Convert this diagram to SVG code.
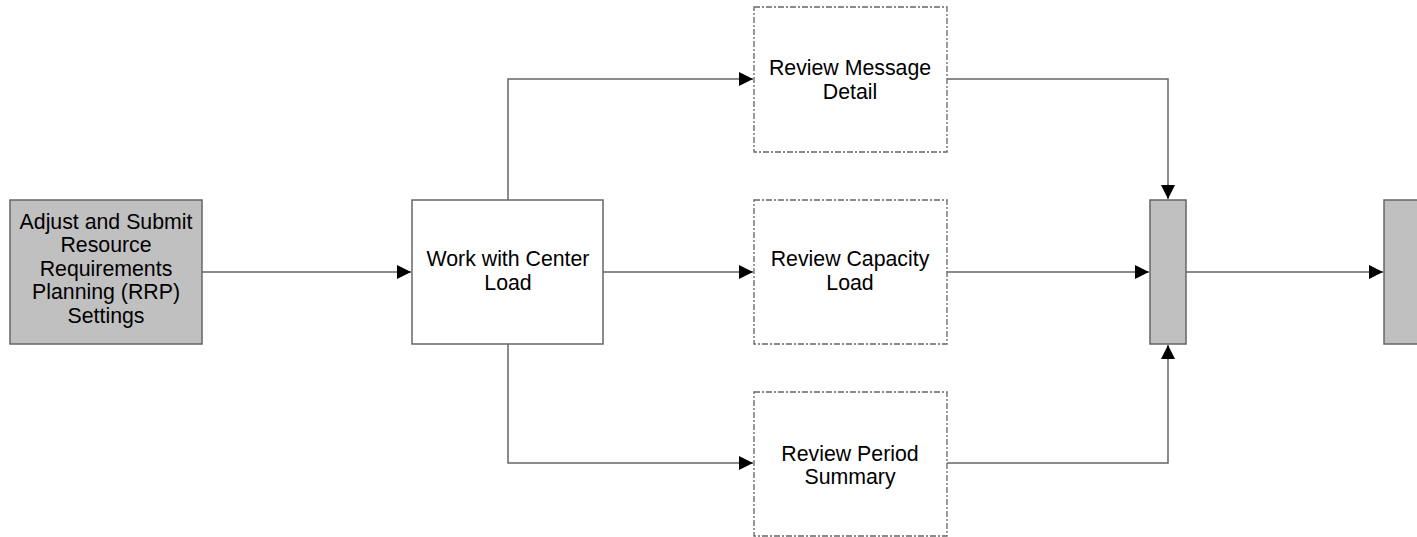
<svg xmlns="http://www.w3.org/2000/svg" width="1417" height="537" viewBox="0 0 1417 537">
<style>
.box{fill:#fff;stroke:#666;stroke-width:1.5}
.gray{fill:#c0c0c0;stroke:#666;stroke-width:1.5}
.dash{fill:#fff;stroke:#666;stroke-width:1.3;stroke-dasharray:6 2 2 2}
.con{fill:none;stroke:#666;stroke-width:1.5}
text{font-family:"Liberation Sans",Arial,sans-serif;font-size:21.3px;fill:#000;text-anchor:middle}
</style>
<defs>
<marker id="arrL" viewBox="0 0 14 14" refX="14" refY="7" markerWidth="14" markerHeight="14" markerUnits="userSpaceOnUse" orient="auto">
<path d="M0,0 L14,7 L0,14 Z" fill="#000"/>
</marker>
</defs>
<g id="connectors">
<path class="con" d="M202,272 H411" marker-end="url(#arrL)"/>
<path class="con" d="M508,200 V79 H753" marker-end="url(#arrL)"/>
<path class="con" d="M603,272 H753" marker-end="url(#arrL)"/>
<path class="con" d="M508,344 V463 H753" marker-end="url(#arrL)"/>
<path class="con" d="M947,79 H1168 V199" marker-end="url(#arrL)"/>
<path class="con" d="M947,272 H1149" marker-end="url(#arrL)"/>
<path class="con" d="M947,463 H1168 V345" marker-end="url(#arrL)"/>
<path class="con" d="M1186,272 H1383" marker-end="url(#arrL)"/>
</g>
<g id="adjust">
<rect class="gray" x="10" y="200" width="192" height="144"/>
<text x="106" y="229">Adjust and Submit</text>
<text x="106" y="252">Resource</text>
<text x="106" y="276">Requirements</text>
<text x="106" y="299">Planning (RRP)</text>
<text x="106" y="323">Settings</text>
</g>
<g id="work">
<rect class="box" x="412" y="200" width="191" height="144"/>
<text x="508" y="266">Work with Center</text>
<text x="508" y="290">Load</text>
</g>
<g id="message">
<rect class="dash" x="754" y="7" width="193" height="145"/>
<text x="850" y="75">Review Message</text>
<text x="850" y="99">Detail</text>
</g>
<g id="capacity">
<rect class="dash" x="754" y="200" width="193" height="144"/>
<text x="850" y="266">Review Capacity</text>
<text x="850" y="290">Load</text>
</g>
<g id="period">
<rect class="dash" x="754" y="392" width="193" height="144"/>
<text x="850" y="461">Review Period</text>
<text x="850" y="484">Summary</text>
</g>
<g id="join">
<rect class="gray" x="1150" y="200" width="36" height="144"/>
</g>
<g id="next">
<rect class="gray" x="1384" y="200" width="40" height="144"/>
</g>
</svg>
